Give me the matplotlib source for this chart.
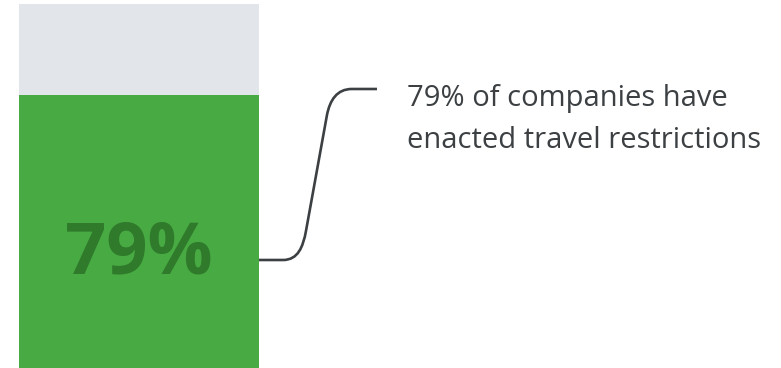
import matplotlib
matplotlib.use("Agg")
import matplotlib.pyplot as plt
from matplotlib.path import Path
from matplotlib.patches import PathPatch

# data
share = 79
total = 100
label = "79% of companies have\nenacted travel restrictions"

fig = plt.figure(figsize=(7.81, 3.68), dpi=100)
ax = fig.add_axes([0, 0, 1, 1])
ax.set_xlim(-0.579, 2.675)
ax.set_ylim(16, 100.92)
ax.axis("off")

# background bar (100%) and value bar
ax.bar(0, total, width=1, color="#e2e6ea")
ax.bar(0, share, width=1, color="#48aa42")

ax.text(0, 42.3, f"{share}%", ha="center", va="center", fontsize=52,
        fontweight="bold", family="Open Sans", color="#2f7a2b")

# connector from bar edge to the label (pixel -> data helpers)
def px(x):
    return -0.5 + (x - 19) / 240

def py(y):
    return share - (y - 95) / (91 / (total - share))

verts = [(259, 260), (283, 260),
         (298, 260), (303, 247), (306, 231),
         (327, 115),
         (330, 100), (337, 89), (352, 89),
         (377, 89)]
codes = [Path.MOVETO, Path.LINETO,
         Path.CURVE4, Path.CURVE4, Path.CURVE4,
         Path.LINETO,
         Path.CURVE4, Path.CURVE4, Path.CURVE4,
         Path.LINETO]
path = Path([(px(x), py(y)) for x, y in verts], codes)
ax.add_patch(PathPatch(path, fill=False, edgecolor="#3c4043", lw=1.9,
                       capstyle="butt"))

ax.text(px(407), py(148), label, ha="left", va="baseline", fontsize=21,
        family="Open Sans", color="#3c4043", linespacing=1.58)

fig.savefig("out.png", dpi=100)
